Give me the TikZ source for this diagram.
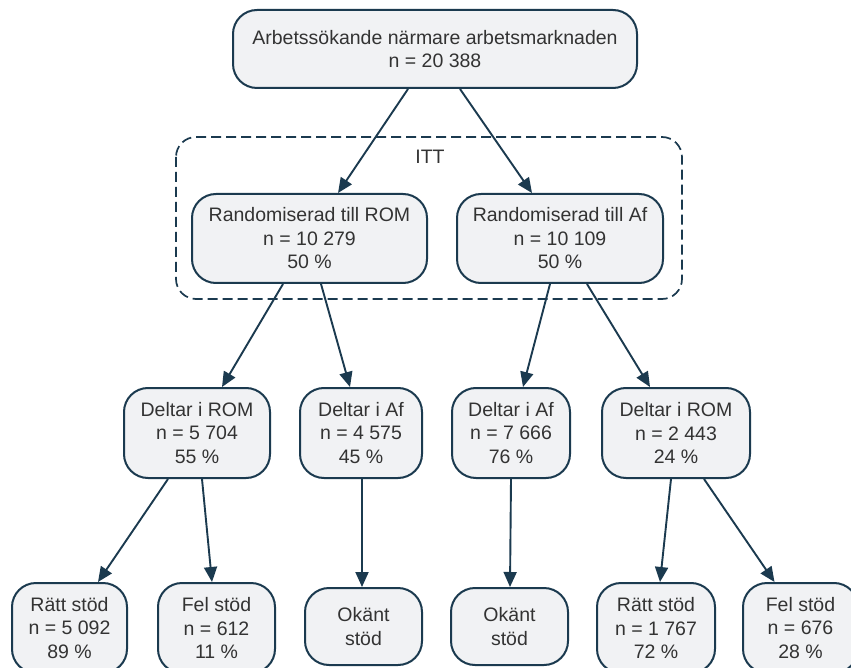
\documentclass[tikz,border=0pt]{standalone}
\usepackage{fontspec}
\setmainfont{Liberation Sans}
\usetikzlibrary{arrows.meta,calc}
\definecolor{edgec}{HTML}{1B3A4F}
\definecolor{fillc}{HTML}{F1F2F4}
\definecolor{textc}{HTML}{333333}
\begin{document}
\begin{tikzpicture}[x=1pt,y=-1pt,
  box/.style={draw=edgec, line width=2pt, fill=fillc, rounded corners=24pt,
    align=center, inner sep=0pt, text=textc,
    font=\fontsize{19.5}{23.5}\selectfont},
  conn/.style={draw=edgec, line width=1.9pt, -{Triangle[length=15pt,width=13pt]}},
  itt/.style={draw=edgec, line width=1.7pt, dash pattern=on 10pt off 5pt, rounded corners=20pt}]
\useasboundingbox (0,0) rectangle (851,668);
\fill[white] (0,0) rectangle (851,668);
% ITT cluster
\draw[itt] (176,137) rectangle (682,299);
\node[text=textc, font=\fontsize{19.5}{23.5}\selectfont] (ittlabel) at (430,157) {ITT};
% nodes
\node[box, minimum width=404pt, minimum height=78pt] (top) at (435,49)
  {Arbetssökande närmare arbetsmarknaden\\n = 20 388};
\node[box, minimum width=235pt, minimum height=89pt] (rrom) at (309.5,238.5)
  {Randomiserad till ROM\\n = 10 279\\50 \%};
\node[box, minimum width=206pt, minimum height=89pt] (raf) at (560,238.5)
  {Randomiserad till Af\\n = 10 109\\50 \%};
\node[box, minimum width=146pt, minimum height=90pt] (dromL) at (197,433)
  {Deltar i ROM\\n = 5 704\\55 \%};
\node[box, minimum width=122pt, minimum height=90pt] (dafL) at (361,433)
  {Deltar i Af\\n = 4 575\\45 \%};
\node[box, minimum width=118pt, minimum height=90pt] (dafR) at (511,433)
  {Deltar i Af\\n = 7 666\\76 \%};
\node[box, minimum width=148pt, minimum height=90pt] (dromR) at (676,433)
  {Deltar i ROM\\n = 2 443\\24 \%};
\node[box, minimum width=115pt, minimum height=90pt] (rattL) at (69.5,628)
  {Rätt stöd\\n = 5 092\\89 \%};
\node[box, minimum width=117pt, minimum height=90pt] (felL) at (216.5,628)
  {Fel stöd\\n = 612\\11 \%};
\node[box, minimum width=117pt, minimum height=77pt] (okL) at (363.5,626.5)
  {Okänt\\stöd};
\node[box, minimum width=117pt, minimum height=77pt] (okR) at (509.5,626.5)
  {Okänt\\stöd};
\node[box, minimum width=118pt, minimum height=90pt] (rattR) at (656,628)
  {Rätt stöd\\n = 1 767\\72 \%};
\node[box, minimum width=115pt, minimum height=90pt] (felR) at (800.5,628)
  {Fel stöd\\n = 676\\28 \%};
% connectors
\draw[conn] ($(top.south)+(-27,0)$) -- ($(rrom.north)+(28.5,0)$);
\draw[conn] ($(top.south)+(25,0)$) -- ($(raf.north)+(-28,0)$);
\draw[conn] ($(rrom.south)+(-26.5,0)$) -- ($(dromL.north)+(25,0)$);
\draw[conn] ($(rrom.south)+(11.5,0)$) -- ($(dafL.north)+(-11,0)$);
\draw[conn] ($(raf.south)+(-10,0)$) -- ($(dafR.north)+(12,0)$);
\draw[conn] ($(raf.south)+(27,0)$) -- ($(dromR.north)+(-26,0)$);
\draw[conn] ($(dromL.south)+(-29,0)$) -- ($(rattL.north)+(28.5,0)$);
\draw[conn] ($(dromL.south)+(5,0)$) -- ($(felL.north)+(-4.5,0)$);
\draw[conn] ($(dafL.south)+(1,0)$) -- ($(okL.north)+(-1.5,0)$);
\draw[conn] ($(dafR.south)+(0,0)$) -- ($(okR.north)+(0.5,0)$);
\draw[conn] ($(dromR.south)+(-5,0)$) -- ($(rattR.north)+(4,0)$);
\draw[conn] ($(dromR.south)+(28,0)$) -- ($(felR.north)+(-26,0)$);
\end{tikzpicture}
\end{document}
